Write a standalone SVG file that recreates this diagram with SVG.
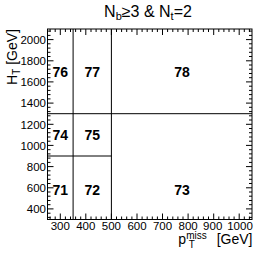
<svg xmlns="http://www.w3.org/2000/svg" width="266" height="258" viewBox="0 0 266 258">
<style>
text{font-family:"Liberation Sans",Arial,sans-serif;fill:#000}
.tl{font-size:11.5px}
.ty{text-anchor:end}
.tx{text-anchor:middle}
.bin{font-size:14px;font-weight:bold;text-anchor:middle}
.ln{stroke:#000;stroke-width:1;fill:none}
</style>
<rect width="266" height="258" fill="#fff"/>
<text x="148" y="16.5" font-size="16" text-anchor="middle">N<tspan font-size="11" dy="3">b</tspan><tspan dy="-3">≥3 &amp; N</tspan><tspan font-size="11" dy="3">t</tspan><tspan dy="-3">=2</tspan></text>
<g id="frame">
<rect x="47.5" y="29" width="204.5" height="190.5" class="ln"/>
<path class="ln" d="M47.5 208.9h6M47.5 187.8h6M47.5 166.6h6M47.5 145.4h6M47.5 124.3h6M47.5 103.1h6M47.5 81.9h6M47.5 60.8h6M47.5 39.6h6
M252 208.9h-6M252 187.8h-6M252 166.6h-6M252 145.4h-6M252 124.3h-6M252 103.1h-6M252 81.9h-6M252 60.8h-6M252 39.6h-6"/>
<path class="ln" d="M47.5 217.4h3M47.5 213.2h3M47.5 204.7h3M47.5 200.5h3M47.5 196.2h3M47.5 192h3M47.5 183.5h3M47.5 179.3h3M47.5 175.1h3M47.5 170.8h3M47.5 162.4h3M47.5 158.1h3M47.5 153.9h3M47.5 149.7h3M47.5 141.2h3M47.5 137h3M47.5 132.7h3M47.5 128.5h3M47.5 120h3M47.5 115.8h3M47.5 111.6h3M47.5 107.3h3M47.5 98.9h3M47.5 94.6h3M47.5 90.4h3M47.5 86.2h3M47.5 77.7h3M47.5 73.5h3M47.5 69.2h3M47.5 65h3M47.5 56.5h3M47.5 52.3h3M47.5 48.1h3M47.5 43.8h3M47.5 35.4h3M47.5 31.1h3
M252 217.4h-3M252 213.2h-3M252 204.7h-3M252 200.5h-3M252 196.2h-3M252 192h-3M252 183.5h-3M252 179.3h-3M252 175.1h-3M252 170.8h-3M252 162.4h-3M252 158.1h-3M252 153.9h-3M252 149.7h-3M252 141.2h-3M252 137h-3M252 132.7h-3M252 128.5h-3M252 120h-3M252 115.8h-3M252 111.6h-3M252 107.3h-3M252 98.9h-3M252 94.6h-3M252 90.4h-3M252 86.2h-3M252 77.7h-3M252 73.5h-3M252 69.2h-3M252 65h-3M252 56.5h-3M252 52.3h-3M252 48.1h-3M252 43.8h-3M252 35.4h-3M252 31.1h-3"/>
<path class="ln" d="M60.3 219.5v-6M85.8 219.5v-6M111.4 219.5v-6M137 219.5v-6M162.5 219.5v-6M188.1 219.5v-6M213.7 219.5v-6M239.2 219.5v-6
M60.3 29v6M85.8 29v6M111.4 29v6M137 29v6M162.5 29v6M188.1 29v6M213.7 29v6M239.2 29v6"/>
<path class="ln" d="M50.1 219.5v-3M55.2 219.5v-3M65.4 219.5v-3M70.5 219.5v-3M75.6 219.5v-3M80.7 219.5v-3M91 219.5v-3M96.1 219.5v-3M101.2 219.5v-3M106.3 219.5v-3M116.5 219.5v-3M121.6 219.5v-3M126.7 219.5v-3M131.9 219.5v-3M142.1 219.5v-3M147.2 219.5v-3M152.3 219.5v-3M157.4 219.5v-3M167.6 219.5v-3M172.8 219.5v-3M177.9 219.5v-3M183 219.5v-3M193.2 219.5v-3M198.3 219.5v-3M203.4 219.5v-3M208.5 219.5v-3M218.8 219.5v-3M223.9 219.5v-3M229 219.5v-3M234.1 219.5v-3M244.3 219.5v-3M249.4 219.5v-3
M50.1 29v3M55.2 29v3M65.4 29v3M70.5 29v3M75.6 29v3M80.7 29v3M91 29v3M96.1 29v3M101.2 29v3M106.3 29v3M116.5 29v3M121.6 29v3M126.7 29v3M131.9 29v3M142.1 29v3M147.2 29v3M152.3 29v3M157.4 29v3M167.6 29v3M172.8 29v3M177.9 29v3M183 29v3M193.2 29v3M198.3 29v3M203.4 29v3M208.5 29v3M218.8 29v3M223.9 29v3M229 29v3M234.1 29v3M244.3 29v3M249.4 29v3"/>
</g>
<g id="yaxis" class="tl ty">
<text x="46" y="213">400</text>
<text x="46" y="192">600</text>
<text x="46" y="170.8">800</text>
<text x="46" y="149.6">1000</text>
<text x="46" y="128.5">1200</text>
<text x="46" y="107.3">1400</text>
<text x="46" y="86.1">1600</text>
<text x="46" y="65">1800</text>
<text x="46" y="43.8">2000</text>
</g>
<g id="xaxis" class="tl tx">
<text x="60.3" y="230">300</text>
<text x="85.8" y="230">400</text>
<text x="111.4" y="230">500</text>
<text x="137" y="230">600</text>
<text x="162.5" y="230">700</text>
<text x="188.1" y="230">800</text>
<text x="212.7" y="230">900</text>
<text x="240" y="230">1000</text>
</g>
<text id="xtitle" x="252.5" y="244" font-size="14" text-anchor="end">p<tspan font-size="10" dy="-5">miss</tspan><tspan font-size="10" dx="-18" dy="9">T</tspan><tspan dx="18" dy="-4"> [GeV]</tspan></text>
<text id="ytitle" transform="translate(17,29) rotate(-90)" font-size="14" text-anchor="end">H<tspan font-size="10" dy="3">T</tspan><tspan dy="-3"> [GeV]</tspan></text>
<g id="connectors">
<path class="ln" d="M73.1 219.5V29M111.4 219.5V29M47.5 113.7H252M47.5 156H111.4"/>
</g>
<g id="bin71"><text class="bin" x="60.3" y="195">71</text></g>
<g id="bin72"><text class="bin" x="92.3" y="195">72</text></g>
<g id="bin73"><text class="bin" x="182" y="195">73</text></g>
<g id="bin74"><text class="bin" x="60.3" y="140">74</text></g>
<g id="bin75"><text class="bin" x="92.3" y="140">75</text></g>
<g id="bin76"><text class="bin" x="60.3" y="76.5">76</text></g>
<g id="bin77"><text class="bin" x="92.3" y="76.5">77</text></g>
<g id="bin78"><text class="bin" x="182" y="76.5">78</text></g>
</svg>
